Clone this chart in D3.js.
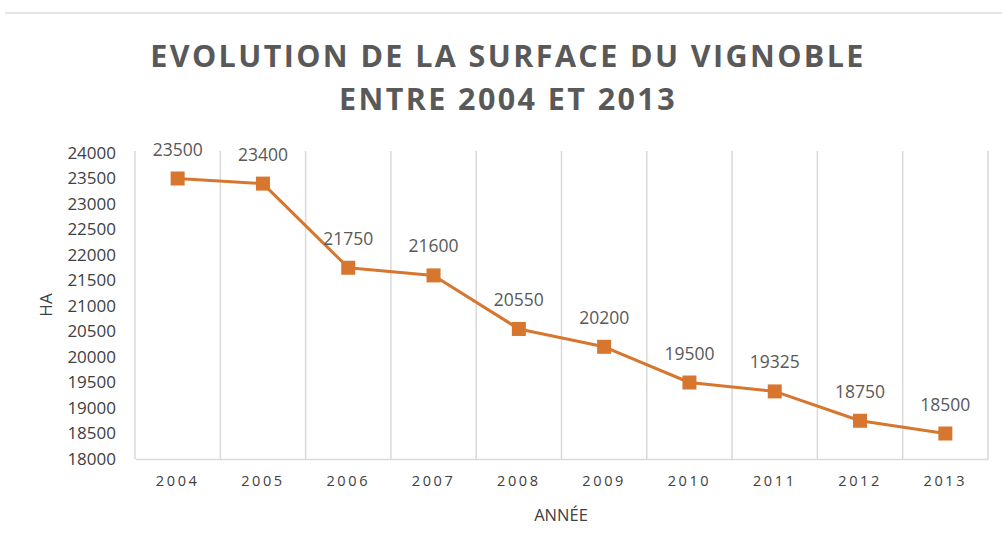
<!DOCTYPE html>
<html lang="fr">
<head>
    <meta charset="utf-8">
    <title>Evolution de la surface du vignoble</title>
    <script src="https://d3js.org/d3.v7.min.js"></script>
    <style>
        body { margin: 0; background: #fff; }
        text { font-family: "Open Sans", "DejaVu Sans", sans-serif; }
    </style>
</head>
<body>
<div id="chart"></div>
<script>
    // data
    const years = ["2004", "2005", "2006", "2007", "2008", "2009", "2010", "2011", "2012", "2013"];
    const surface = [23500, 23400, 21750, 21600, 20550, 20200, 19500, 19325, 18750, 18500];
    const yTicks = [18000, 18500, 19000, 19500, 20000, 20500, 21000, 21500, 22000, 22500, 23000, 23500, 24000];
    const titleLines = ["EVOLUTION DE LA SURFACE DU VIGNOBLE", "ENTRE 2004 ET 2013"];

    const width = 1002, height = 545;
    const margin = {top: 153, right: 14, bottom: 86, left: 135};
    const orange = "#D6762F";
    const grey = "#595959";

    const svg = d3.select("#chart").append("svg")
        .attr("width", width).attr("height", height);

    // thin separator at the top of the page
    svg.append("line")
        .attr("x1", 5).attr("x2", width).attr("y1", 13).attr("y2", 13)
        .attr("stroke", "#e6e6e6").attr("stroke-width", 2);

    svg.append("g").selectAll("text")
        .data(titleLines)
        .join("text")
        .attr("x", 508)
        .attr("y", (d, i) => 67 + i * 43)
        .attr("text-anchor", "middle")
        .attr("font-size", 30.5)
        .attr("font-weight", "bold")
        .attr("letter-spacing", 2.4)
        .attr("fill", grey)
        .text(d => d);

    const x = d3.scaleBand()
        .domain(years)
        .range([margin.left, width - margin.right]);

    const y = d3.scaleLinear()
        .domain([18000, 24000])
        .range([height - margin.bottom, margin.top]);

    // vertical category separators
    svg.append("g")
        .attr("stroke", "#d9d9d9")
        .attr("stroke-width", 1.5)
        .selectAll("line")
        .data(years.concat(["end"]))
        .join("line")
        .attr("x1", (d, i) => margin.left + i * x.bandwidth())
        .attr("x2", (d, i) => margin.left + i * x.bandwidth())
        .attr("y1", margin.top - 2)
        .attr("y2", y(18000));

    // bottom axis
    svg.append("g")
        .attr("transform", `translate(0,${y(18000)})`)
        .call(d3.axisBottom(x).tickSize(0).tickPadding(17))
        .call(g => g.select(".domain").attr("stroke", "#d9d9d9").attr("stroke-width", 1.5))
        .call(g => g.selectAll("text")
            .attr("font-size", 14.5)
            .attr("letter-spacing", 2.6)
            .attr("fill", "#404040")
            .attr("font-family", "\"Open Sans\", sans-serif"));

    // left axis
    svg.append("g")
        .attr("transform", `translate(${margin.left},0)`)
        .call(d3.axisLeft(y).tickValues(yTicks).tickSize(0).tickPadding(19).tickFormat(d3.format("d")))
        .call(g => g.select(".domain").remove())
        .call(g => g.selectAll("text")
            .attr("font-size", 17)
            .attr("fill", "#404040")
            .attr("font-family", "\"Open Sans\", sans-serif"));

    svg.append("text")
        .attr("x", 561).attr("y", 521)
        .attr("text-anchor", "middle")
        .attr("font-size", 16.5)
        .attr("fill", "#404040")
        .text("ANNÉE");

    svg.append("text")
        .attr("transform", "translate(52,305) rotate(-90)")
        .attr("text-anchor", "middle")
        .attr("font-size", 17)
        .attr("fill", "#404040")
        .text("HA");

    const cx = (d, i) => x(years[i]) + x.bandwidth() / 2;

    const line = d3.line()
        .x(cx)
        .y(d => y(d));

    svg.append("path")
        .datum(surface)
        .attr("fill", "none")
        .attr("stroke", orange)
        .attr("stroke-width", 3)
        .attr("stroke-linejoin", "round")
        .attr("d", line);

    const sq = 14;
    svg.append("g").selectAll("rect")
        .data(surface)
        .join("rect")
        .attr("x", (d, i) => cx(d, i) - sq / 2)
        .attr("y", d => y(d) - sq / 2)
        .attr("width", sq).attr("height", sq)
        .attr("fill", orange);

    svg.append("g").selectAll("text")
        .data(surface)
        .join("text")
        .attr("x", cx)
        .attr("y", d => y(d) - 23)
        .attr("text-anchor", "middle")
        .attr("font-size", 17.5)
        .attr("fill", grey)
        .text(d => d);
</script>
</body>
</html>
